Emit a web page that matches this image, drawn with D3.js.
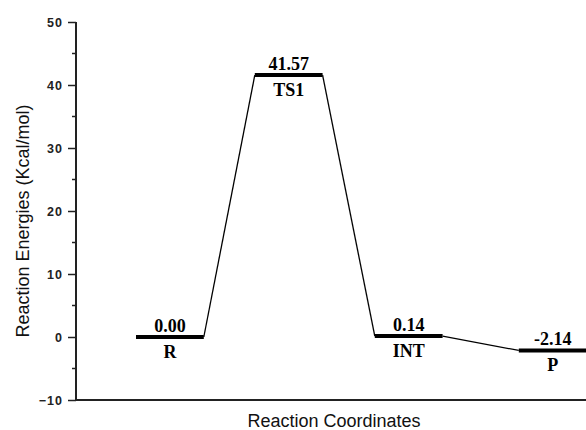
<!DOCTYPE html>
<html><head><meta charset="utf-8">
<script src="https://cdn.jsdelivr.net/npm/d3@7"></script>
<style>body{margin:0;background:#fff}svg{display:block}</style>
</head><body>
<script>
const states = ["R", "TS1", "INT", "P"];
const energies = [0.00, 41.57, 0.14, -2.14];
const energyLabels = ["0.00", "41.57", "0.14", "-2.14"];
const levelStart = [1.0, 2.98, 4.98, 7.38];
const levelWidth = 1.13;
const yTicks = [-10, 0, 10, 20, 30, 40, 50];
const yMinorTicks = [-5, 5, 15, 25, 35, 45];

const W = 586, H = 430;
const svg = d3.select("body").append("svg").attr("width", W).attr("height", H);
const x = d3.scaleLinear().domain([0, 8.5]).range([76, 586]);
const y = d3.scaleLinear().domain([-10, 50]).range([400, 22]);

// y axis
const yAxis = d3.axisLeft(y).tickValues(yTicks).tickSize(8).tickPadding(5).tickFormat(d3.format("d"));
const gy = svg.append("g").attr("transform", "translate(76,0)").call(yAxis);
gy.select(".domain").attr("stroke", "#222").attr("stroke-width", 2).attr("d", `M0,${y(50)}V${y(-10)}`);
gy.selectAll(".tick line").attr("stroke", "#222").attr("stroke-width", 1.5);
gy.selectAll(".tick text").attr("font-family", "Arial, 'Liberation Sans', sans-serif").attr("font-size", 12.5)
  .attr("font-weight", "bold").attr("letter-spacing", 1).attr("fill", "#222");
svg.append("g").selectAll("line").data(yMinorTicks).join("line")
  .attr("x1", 72).attr("x2", 76).attr("y1", d => y(d)).attr("y2", d => y(d))
  .attr("stroke", "#222").attr("stroke-width", 1.5);

// x axis
svg.append("line").attr("x1", 75).attr("x2", 586).attr("y1", y(-10)).attr("y2", y(-10)).attr("stroke", "#222").attr("stroke-width", 2);

// connectors
const conn = [];
for (let i = 0; i < states.length - 1; i++) {
  conn.push([levelStart[i] + levelWidth, energies[i], levelStart[i + 1], energies[i + 1]]);
}
svg.append("g").selectAll("line").data(conn).join("line")
  .attr("x1", d => x(d[0])).attr("y1", d => y(d[1])).attr("x2", d => x(d[2])).attr("y2", d => y(d[3]))
  .attr("stroke", "#000").attr("stroke-width", 1.3);

// levels
const data = states.map((s, i) => ({s, e: energies[i], lab: energyLabels[i], x0: levelStart[i]}));
svg.append("g").selectAll("line").data(data).join("line")
  .attr("x1", d => x(d.x0)).attr("x2", d => x(d.x0 + levelWidth))
  .attr("y1", d => y(d.e)).attr("y2", d => y(d.e))
  .attr("stroke", "#000").attr("stroke-width", 4);

const serif = "'Times New Roman', 'Liberation Serif', serif";
svg.append("g").selectAll("text").data(data).join("text")
  .attr("x", d => x(d.x0 + levelWidth / 2)).attr("y", d => y(d.e) - 5)
  .attr("text-anchor", "middle").attr("font-family", serif).attr("font-weight", "bold").attr("font-size", 18)
  .text(d => d.lab);
svg.append("g").selectAll("text").data(data).join("text")
  .attr("x", d => x(d.x0 + levelWidth / 2)).attr("y", d => y(d.e) + 21)
  .attr("text-anchor", "middle").attr("font-family", serif).attr("font-weight", "bold").attr("font-size", 18)
  .text(d => d.s);

// titles
const sans = "Arial, 'Liberation Sans', sans-serif";
svg.append("text").attr("x", 334).attr("y", 427).attr("text-anchor", "middle")
  .attr("font-family", sans).attr("font-size", 18).attr("fill", "#111").text("Reaction Coordinates");
svg.append("text").attr("transform", "translate(29,221) rotate(-90)").attr("text-anchor", "middle")
  .attr("font-family", sans).attr("font-size", 18).attr("fill", "#111").text("Reaction Energies (Kcal/mol)");
</script>
</body></html>
